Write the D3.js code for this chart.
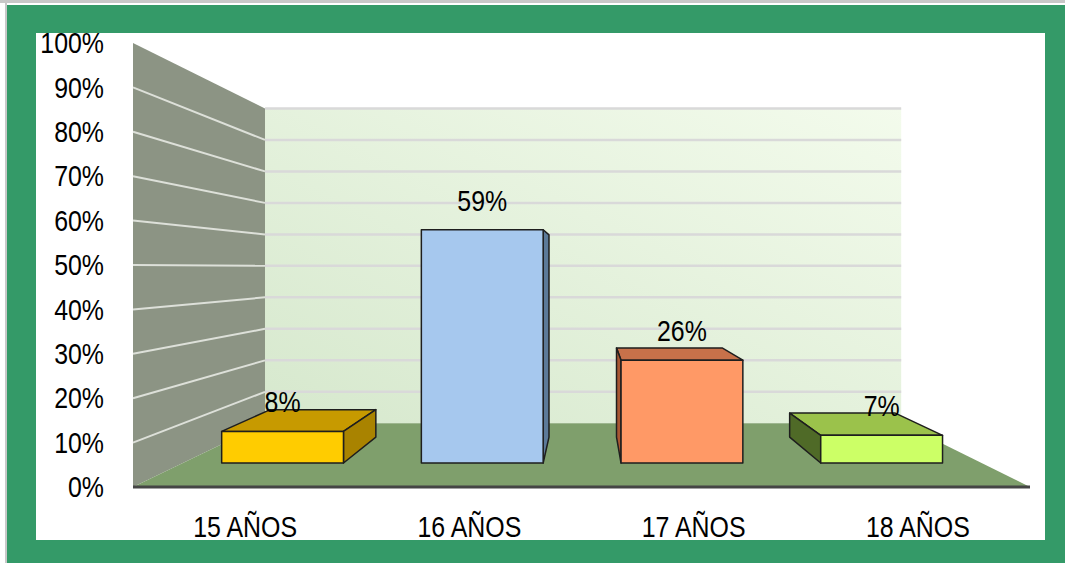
<!DOCTYPE html>
<html lang="es">
<head>
  <meta charset="UTF-8">
  <title>Edades</title>
  <script src="https://d3js.org/d3.v7.min.js"></script>
  <style>
    body { margin: 0; background: #fff; }
    text { font-family: "Liberation Sans Narrow", "Arial Narrow", "Liberation Sans", Arial, sans-serif; }
  </style>
</head>
<body>
<svg></svg>
<script>
  const categories = ['15 AÑOS', '16 AÑOS', '17 AÑOS', '18 AÑOS']
  const values = [0.08, 0.59, 0.26, 0.07]
  const yTicks = [0, 0.1, 0.2, 0.3, 0.4, 0.5, 0.6, 0.7, 0.8, 0.9, 1]

  const frontColors = ['#ffcc00', '#a6c8ee', '#ff9966', '#ccff66']
  const topColors = ['#c79a00', '#7f9cbc', '#c7714a', '#9bc24b']
  const sideColors = ['#a98300', '#5c7a99', '#a85632', '#4f6a27']

  const width = 1065, height = 563
  // front plane of the 3d box
  const plot = {left: 133, right: 1030, top: 43, bottom: 487}
  const vp = {x: 587, y: 268}   // vanishing point
  const k = 0.41                 // depth factor, back wall at z = 1
  const zFront = 0.30, zBack = 0.72

  const x = d3.scaleBand()
      .domain(categories)
      .range([plot.left, plot.right])
      .paddingInner(0.39)
      .paddingOuter(0.195)

  const y = d3.scaleLinear()
      .domain([0, 1])
      .range([plot.bottom, plot.top])

  const proj = (X, Y, z) => {
    const f = 1 / (1 + k * z)
    return [vp.x + (X - vp.x) * f, vp.y + (Y - vp.y) * f]
  }
  const poly = pts => 'M' + pts.map(p => proj(...p).join(',')).join('L') + 'Z'

  const svg = d3.select('svg')
      .attr('width', width)
      .attr('height', height)
      .attr('viewBox', [0, 0, width, height])

  // frame
  svg.append('rect').attr('x', 0).attr('y', 0).attr('width', width).attr('height', 3).attr('fill', '#c8c8c8')
  svg.append('rect').attr('x', 5).attr('y', 0).attr('width', 2).attr('height', height).attr('fill', '#c8c8c8')
  svg.append('rect').attr('x', 7).attr('y', 5).attr('width', width - 7).attr('height', height - 5).attr('fill', '#349a68')
  svg.append('rect').attr('x', 36).attr('y', 33).attr('width', 1009).attr('height', 507).attr('fill', '#fff')

  const defs = svg.append('defs')
  const grad = defs.append('linearGradient').attr('id', 'backwall')
      .attr('x1', '0%').attr('y1', '100%').attr('x2', '100%').attr('y2', '0%')
  grad.append('stop').attr('offset', '0%').attr('stop-color', '#d6e8cd')
  grad.append('stop').attr('offset', '100%').attr('stop-color', '#f3fbec')

  // back wall
  svg.append('path')
      .attr('d', poly([[plot.left, plot.top, 1], [plot.right, plot.top, 1], [plot.right, plot.bottom, 1], [plot.left, plot.bottom, 1]]))
      .attr('fill', 'url(#backwall)')

  svg.append('g')
    .selectAll('line')
    .data(yTicks.filter(d => d > 0))
    .join('line')
      .attr('x1', proj(plot.left, 0, 1)[0])
      .attr('x2', proj(plot.right, 0, 1)[0])
      .attr('y1', d => proj(0, y(d), 1)[1])
      .attr('y2', d => proj(0, y(d), 1)[1])
      .attr('stroke', '#d9d9d9')
      .attr('stroke-width', 2.5)

  // left wall
  svg.append('path')
      .attr('d', poly([[plot.left, plot.top, 0], [plot.left, plot.top, 1], [plot.left, plot.bottom, 1], [plot.left, plot.bottom, 0]]))
      .attr('fill', '#8c9484')

  svg.append('g')
    .selectAll('line')
    .data(yTicks.filter(d => d > 0 && d < 1))
    .join('line')
      .attr('x1', d => proj(plot.left, y(d), 0)[0])
      .attr('y1', d => proj(plot.left, y(d), 0)[1])
      .attr('x2', d => proj(plot.left, y(d), 1)[0])
      .attr('y2', d => proj(plot.left, y(d), 1)[1])
      .attr('stroke', '#dde0d9')
      .attr('stroke-width', 2)

  // floor
  svg.append('path')
      .attr('d', poly([[plot.left, plot.bottom, 0], [plot.right, plot.bottom, 0], [plot.right, plot.bottom, 1], [plot.left, plot.bottom, 1]]))
      .attr('fill', '#7f9f6c')

  svg.append('line')
      .attr('x1', plot.left).attr('x2', plot.right)
      .attr('y1', plot.bottom).attr('y2', plot.bottom)
      .attr('stroke', '#454545')
      .attr('stroke-width', 3)

  // bars
  const bars = svg.append('g')
    .selectAll('g')
    .data(categories.map((c, i) => ({c, v: values[i], i})))
    .join('g')
      .attr('stroke', '#1e1e1e')
      .attr('stroke-width', 1.5)
      .attr('stroke-linejoin', 'round')

  bars.each(function (d) {
    const g = d3.select(this)
    const X0 = x(d.c), X1 = x(d.c) + x.bandwidth()
    const Y0 = y(0), Y1 = y(d.v)
    if (Y1 > vp.y) {
      g.append('path')
          .attr('d', poly([[X0, Y1, zFront], [X1, Y1, zFront], [X1, Y1, zBack], [X0, Y1, zBack]]))
          .attr('fill', topColors[d.i])
    }
    const Xs = X1 < vp.x ? X1 : X0
    g.append('path')
        .attr('d', poly([[Xs, Y0, zFront], [Xs, Y1, zFront], [Xs, Y1, zBack], [Xs, Y0, zBack]]))
        .attr('fill', sideColors[d.i])
    g.append('path')
        .attr('d', poly([[X0, Y0, zFront], [X1, Y0, zFront], [X1, Y1, zFront], [X0, Y1, zFront]]))
        .attr('fill', frontColors[d.i])
  })

  // data labels
  svg.append('g')
    .selectAll('text')
    .data(categories.map((c, i) => ({c, v: values[i]})))
    .join('text')
      .attr('x', d => proj(x(d.c) + x.bandwidth() / 2, y(d.v), zFront)[0])
      .attr('y', d => proj(x(d.c) + x.bandwidth() / 2, y(d.v), zFront)[1] - 30)
      .attr('dy', '0.36em')
      .attr('text-anchor', 'middle')
      .attr('font-size', 30)
      .text(d => d3.format('.0%')(d.v))

  // y axis
  svg.append('g')
      .attr('transform', `translate(${110},0)`)
      .call(d3.axisLeft(y).tickValues(yTicks).tickSize(0).tickPadding(6).tickFormat(d3.format('.0%')))
      .call(g => g.select('.domain').remove())
      .call(g => g.selectAll('text')
          .attr('font-size', 30)
          .attr('fill', '#000'))
      .attr('font-family', null)

  // x axis labels
  svg.append('g')
      .attr('transform', `translate(0,${537})`)
      .call(d3.axisBottom(x).tickSize(0).tickPadding(0))
      .call(g => g.select('.domain').remove())
      .call(g => g.selectAll('text')
          .attr('y', 0)
          .attr('dy', 0)
          .attr('font-size', 30)
          .attr('fill', '#000'))
      .attr('font-family', null)

  // no narrow font here, so squeeze the text to the reference width
  svg.selectAll('text').each(function () {
    const w = this.getComputedTextLength()
    d3.select(this).attr('textLength', w * 0.83).attr('lengthAdjust', 'spacingAndGlyphs')
  })
</script>
</body>
</html>
